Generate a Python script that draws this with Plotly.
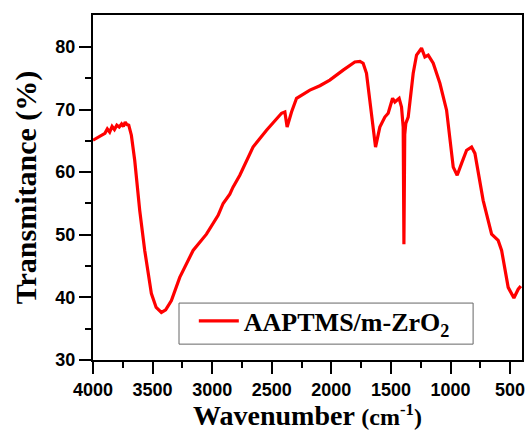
import plotly.graph_objects as go

wavenumber = [4000, 3960, 3930, 3900, 3880, 3860, 3840, 3820, 3800, 3780, 3760, 3745, 3730, 3715, 3700,
              3678, 3650, 3608, 3566, 3510, 3470, 3426, 3390, 3342, 3272, 3160, 3048, 2950, 2908, 2852,
              2825, 2768, 2657, 2544, 2418, 2390, 2371, 2334, 2292, 2180, 2096, 2013, 1901, 1803, 1760,
              1733, 1705, 1662, 1629, 1593, 1551, 1523, 1486, 1467, 1431, 1411, 1397, 1391, 1384, 1375,
              1355, 1313, 1285, 1243, 1215, 1187, 1145, 1089, 1033, 977, 944, 907, 865, 823, 795, 726,
              655, 600, 571, 516, 468, 432, 410]
transmittance = [65.1, 65.5, 65.9, 66.2, 66.9, 66.4, 67.3, 66.8, 67.5, 67.2, 67.7, 67.3, 68.0, 67.6, 67.5,
                 65.9, 61.9, 53.9, 47.5, 40.6, 38.4, 37.6, 38.0, 39.5, 43.2, 47.5, 50.1, 53.1, 55.0, 56.5,
                 57.6, 59.5, 64.0, 66.7, 69.4, 69.6, 67.2, 69.6, 71.8, 73.1, 73.8, 74.7, 76.3, 77.6, 77.7,
                 77.4, 75.8, 68.8, 64.0, 67.2, 68.8, 69.4, 71.8, 71.2, 71.8, 70.4, 67.2, 48.5, 66.0, 67.8,
                 68.8, 75.8, 78.7, 79.8, 78.4, 78.7, 77.4, 74.2, 69.9, 60.8, 59.5, 61.4, 63.5, 64.0, 63.0, 55.5,
                 50.1, 49.1, 47.5, 41.6, 39.9, 41.3, 41.8]

series_name = "AAPTMS/m-ZrO<sub>2</sub>"
x_title = "Wavenumber <span style='font-size:24px'>(cm<sup>-1</sup>)</span>"
y_title = "Transmitance (%)\u00a0\u00a0\u00a0\u00a0\u00a0\u00a0"

fig = go.Figure()
fig.add_trace(go.Scatter(x=wavenumber, y=transmittance, mode="lines", name=series_name,
                         line=dict(color="#FF0000", width=3.2)))

axis_common = dict(showline=True, linewidth=2, linecolor="black", mirror=True,
                   ticks="outside", ticklen=12, tickwidth=2, tickcolor="black",
                   showgrid=False, zeroline=False, automargin=False,
                   tickfont=dict(family="Arial, Liberation Sans", size=18, color="black", weight="bold"))

fig.update_layout(
    width=529, height=433,
    margin=dict(l=93, r=7, t=15, b=73),
    paper_bgcolor="white", plot_bgcolor="white",
    xaxis=dict(range=[4000, 400], tickmode="linear", tick0=500, dtick=500,
               minor=dict(ticks="outside", ticklen=6, tickwidth=2, tickcolor="black", dtick=250, tick0=250),
               title=dict(text=x_title, standoff=6,
                          font=dict(family="Times New Roman, Liberation Serif", size=28, color="black", weight="bold")),
               **axis_common),
    yaxis=dict(range=[30, 85.1], tickmode="linear", tick0=30, dtick=10,
               minor=dict(ticks="outside", ticklen=6, tickwidth=2, tickcolor="black",
                          tickvals=[35, 45, 55, 65, 75]),
               title=dict(text=y_title, standoff=10,
                          font=dict(family="Times New Roman, Liberation Serif", size=30, color="black", weight="bold")),
               **axis_common),
    showlegend=True,
    legend=dict(x=0.235, y=0.181, xanchor="left", yanchor="top",
                bgcolor="rgba(0,0,0,0)", borderwidth=0,
                itemwidth=40,
                font=dict(family="Times New Roman, Liberation Serif", size=26, color="black", weight="bold")),
    shapes=[dict(type="rect", xref="paper", yref="paper", x0=0.2005, x1=0.886, y0=0.046, y1=0.165,
                 line=dict(color="#666666", width=1), fillcolor="rgba(0,0,0,0)")],
)

fig.write_html("out.html", config={"displayModeBar": False},
               post_script="document.body.style.margin='0';")
